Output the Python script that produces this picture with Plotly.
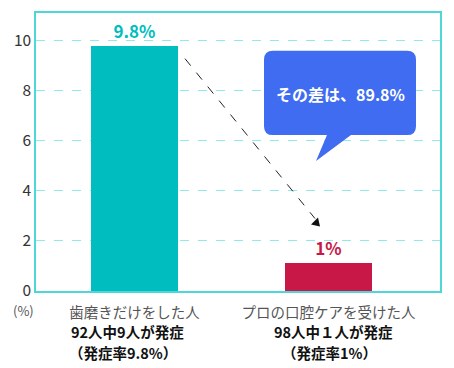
import plotly.graph_objects as go

categories = ["歯磨きだけをした人", "プロの口腔ケアを受けた人"]
values = [9.8, 1.1]
value_labels = ["9.8%", "1%"]
bar_colors = ["#00BDBF", "#C81848"]
sub_line1 = ["92人中9人が発症", "98人中１人が発症"]
sub_line2 = ["（発症率9.8%）", "（発症率1%）"]
y_ticks = [0, 2, 4, 6, 8, 10]
callout_text = "その差は、89.8%"

W, H = 454, 368
L, R, T, B = 36, 14, 11, 77
PW, PH = W - L - R, H - T - B

def px(x):
    return (x - L) / PW

def py(y):
    return (H - B - y) / PH

FONT = "Noto Sans CJK JP"
xpos = list(range(len(categories)))

fig = go.Figure()
fig.add_trace(go.Bar(
    x=xpos, y=values, width=0.448, marker=dict(color=bar_colors, line=dict(width=0)),
    text=["<b>" + t + "</b>" for t in value_labels], textposition="outside", cliponaxis=False,
    textfont=dict(family=FONT, size=17, color=bar_colors), hoverinfo="skip",
))

fig.update_layout(
    width=W, height=H, margin=dict(l=L, r=R, t=T, b=B),
    paper_bgcolor="white", plot_bgcolor="white", showlegend=False,
    font=dict(family=FONT),
    xaxis=dict(range=[-0.508, 1.575], tickvals=xpos, ticktext=categories,
               tickfont=dict(size=14.5, color="#555555"), showgrid=False,
               showline=True, linecolor="#4FD6DA", linewidth=1.5, mirror=True,
               ticks="", zeroline=False, ticklabelstandoff=8),
    yaxis=dict(range=[0, 11.1], tickvals=y_ticks, tickfont=dict(size=15.5, color="#333333"),
               showgrid=True, gridcolor="#8FEAEA", griddash="dash", gridwidth=1,
               showline=True, linecolor="#4FD6DA", linewidth=1.5, mirror=True,
               ticks="", zeroline=False),
    bargap=0,
)

annotations = []
annotations.append(dict(x=px(23), y=py(311), xref="paper", yref="paper", text="(%)",
                        xanchor="center", yanchor="middle",
                        showarrow=False, font=dict(size=13, color="#555555")))
centers = [127, 333]
for i in range(len(categories)):
    annotations.append(dict(x=px(centers[i]), y=py(332), xref="paper", yref="paper",
                            xanchor="center", yanchor="middle",
                            text="<b>" + sub_line1[i] + "</b>", showarrow=False,
                            font=dict(size=14.5, color="#111111")))
    annotations.append(dict(x=px(centers[i] - 4), y=py(353), xref="paper", yref="paper",
                            xanchor="center", yanchor="middle",
                            text="<b>" + sub_line2[i] + "</b>", showarrow=False,
                            font=dict(size=14.5, color="#111111")))
annotations.append(dict(x=px(340), y=py(93), xref="paper", yref="paper",
                        xanchor="center", yanchor="middle",
                        text="<b>" + callout_text + "</b>", showarrow=False,
                        font=dict(size=16, color="white")))
fig.update_layout(annotations=annotations)

# callout box with rounded corners and pointer
x0, x1, y0, y1, r = 264, 416, 49, 134, 9
path = (f"M {px(x0+r)} {py(y0)} L {px(x1-r)} {py(y0)} Q {px(x1)} {py(y0)} {px(x1)} {py(y0+r)} "
        f"L {px(x1)} {py(y1-r)} Q {px(x1)} {py(y1)} {px(x1-r)} {py(y1)} "
        f"L {px(351)} {py(y1)} L {px(316)} {py(160)} L {px(327)} {py(y1)} "
        f"L {px(x0+r)} {py(y1)} Q {px(x0)} {py(y1)} {px(x0)} {py(y1-r)} "
        f"L {px(x0)} {py(y0+r)} Q {px(x0)} {py(y0)} {px(x0+r)} {py(y0)} Z")
shapes = [dict(type="path", xref="paper", yref="paper", path=path,
               fillcolor="#3F6CF0", line=dict(width=0), layer="above")]
# dashed arrow
shapes.append(dict(type="line", xref="paper", yref="paper", x0=px(185), y0=py(57),
                   x1=px(315), y1=py(218), line=dict(color="#222222", width=1, dash="dash")))
shapes.append(dict(type="path", xref="paper", yref="paper",
                   path=f"M {px(320)} {py(226)} L {px(311)} {py(224)} L {px(318)} {py(217)} Z",
                   fillcolor="#111111", line=dict(width=0)))
fig.update_layout(shapes=shapes)

fig.write_html("out.html", config={"displayModeBar": False},
               post_script="document.body.style.margin='0';document.body.style.overflow='hidden';")
